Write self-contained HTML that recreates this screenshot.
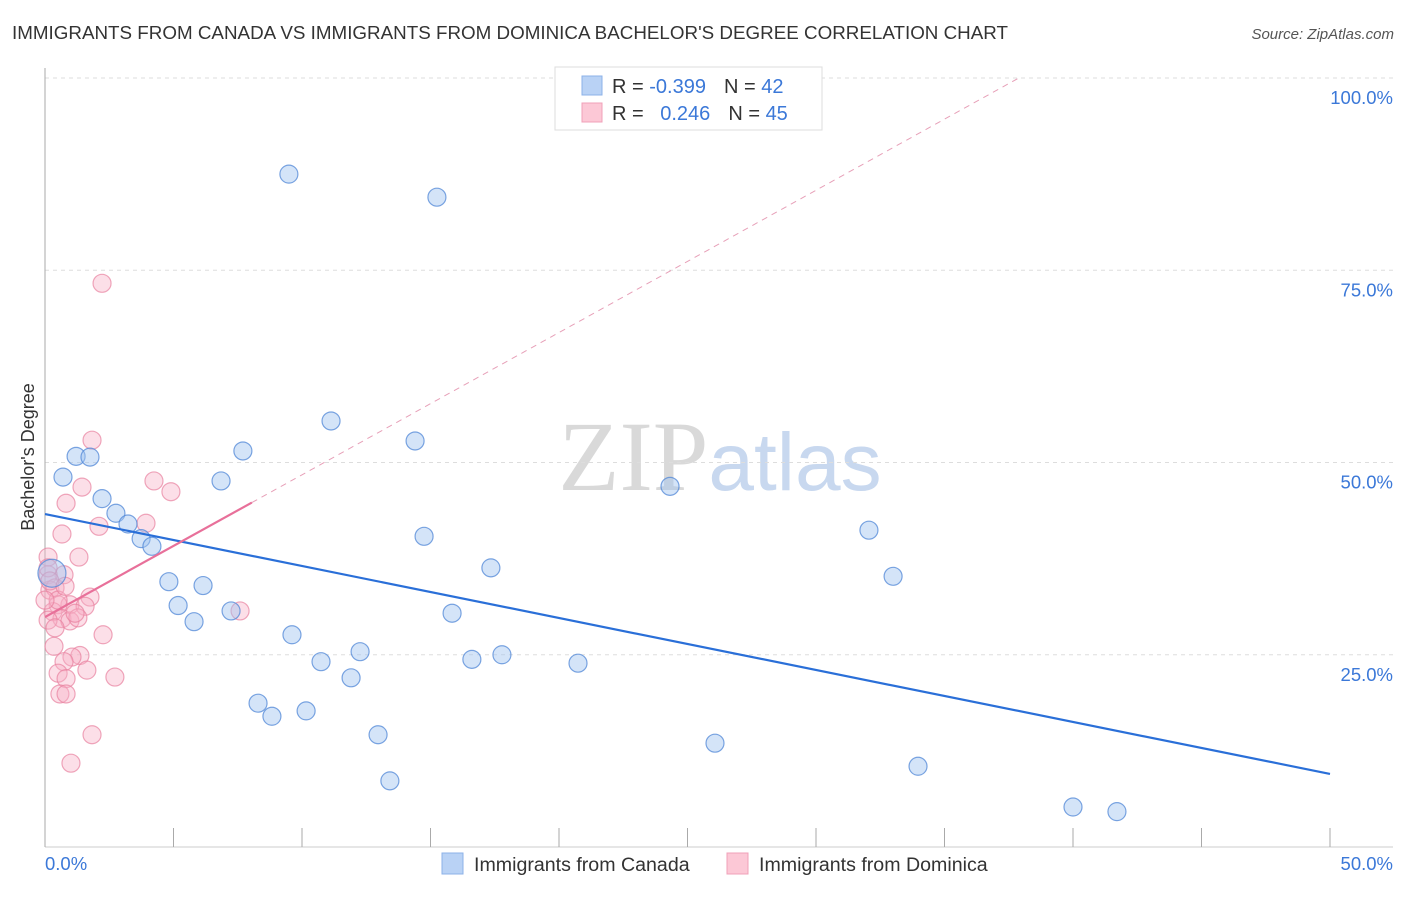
<!DOCTYPE html>
<html><head><meta charset="utf-8"><style>
body{margin:0;background:#fff;font-family:"Liberation Sans",sans-serif;}
svg text{font-family:"Liberation Sans",sans-serif;}
</style></head><body>
<svg id="chart" width="1406" height="892" xmlns="http://www.w3.org/2000/svg">
<text x="12" y="39" font-size="18" fill="#333" textLength="996" lengthAdjust="spacingAndGlyphs">IMMIGRANTS FROM CANADA VS IMMIGRANTS FROM DOMINICA BACHELOR'S DEGREE CORRELATION CHART</text>
<text x="1394" y="39" font-size="15" fill="#555" text-anchor="end" font-style="italic">Source: ZipAtlas.com</text>
<text x="720" y="490" font-size="100" text-anchor="middle"><tspan fill="#d9d9d9" font-family="Liberation Serif">ZIP</tspan><tspan fill="#c8d8ef" font-size="82">atlas</tspan></text>
<text transform="translate(34,457) rotate(-90)" font-size="18" fill="#333" text-anchor="middle">Bachelor's Degree</text>
<g id="grid"></g><g id="marks"></g>
<g>
<rect x="555" y="67" width="267" height="63" fill="#fff" stroke="#ddd"/>
<rect x="582" y="76" width="20" height="19" fill="#b9d2f5" stroke="#8cb2e8"/>
<rect x="582" y="103" width="20" height="19" fill="#fcc8d6" stroke="#f0a0b8"/>
<text x="612" y="93" font-size="20" fill="#333">R = <tspan fill="#3b78d8">-0.399</tspan><tspan dx="18">N = </tspan><tspan fill="#3b78d8">42</tspan></text>
<text x="612" y="120" font-size="20" fill="#333">R = <tspan fill="#3b78d8" dx="11">0.246</tspan><tspan dx="18">N = </tspan><tspan fill="#3b78d8">45</tspan></text>
</g>
<g>
<rect x="442" y="853" width="21" height="21" fill="#b9d2f5" stroke="#8cb2e8"/>
<text x="474" y="871" font-size="19.6" fill="#333">Immigrants from Canada</text>
<rect x="727" y="853" width="21" height="21" fill="#fcc8d6" stroke="#f0a0b8"/>
<text x="759" y="871" font-size="19.6" fill="#333">Immigrants from Dominica</text>
</g>
</svg>
<script>
const yTicks=[25,50,75,100];
const yTickLabels=["25.0%","50.0%","75.0%","100.0%"];
const xTicks=[0,5,10,15,20,25,30,35,40,45,50];
const canadaX=[9.49,15.25,11.13,7.70,14.40,1.21,1.75,0.70,6.85,24.32,2.22,2.76,3.23,3.74,4.16,14.75,32.06,17.35,33.00,4.82,6.15,5.18,7.24,5.80,15.84,9.61,12.26,10.74,16.61,17.78,20.74,11.91,8.29,8.83,10.16,12.96,26.07,33.97,13.42,40.00,41.71,0.27];
const canadaY=[87.5,84.5,55.4,51.5,52.8,50.8,50.7,48.1,47.6,46.9,45.3,43.4,42.0,40.1,39.1,40.4,41.2,36.3,35.2,34.5,34.0,31.4,30.7,29.3,30.4,27.6,25.4,24.1,24.4,25.0,23.9,22.0,18.7,17.0,17.7,14.6,13.5,10.5,8.6,5.2,4.6,35.6];
const canadaR=[9,9,9,9,9,9,9,9,9,9,9,9,9,9,9,9,9,9,9,9,9,9,9,9,9,9,9,9,9,9,9,9,9,9,9,9,9,9,9,9,9,14];
const domX=[2.22,1.83,1.44,0.82,4.24,4.90,3.93,2.10,0.66,0.12,1.32,0.74,0.12,0.19,0.39,1.75,0.97,1.56,0.51,0.31,0.66,0.97,0.12,0.39,1.28,2.26,0.35,7.59,1.36,1.05,0.74,1.63,0.51,2.72,0.82,0.58,0.82,1.83,1.01,0.12,0.51,1.17,0.19,0.78,0.0];
const domY=[73.3,52.9,46.8,44.7,47.6,46.2,42.1,41.7,40.7,37.7,37.7,35.4,35.4,33.4,33.7,32.5,31.5,31.3,31.5,30.6,29.7,29.4,29.5,28.5,29.8,27.6,26.1,30.7,24.9,24.7,24.1,23.0,22.6,22.1,21.9,19.9,19.9,14.6,10.9,36.3,32.1,30.4,34.6,33.9,32.1];
const canadaLine=[43.3,9.5];
const domLine=[29.9,1.85,8.05];
const sx=v=>45+v/50*1285, sy=v=>847-v/100*769;
const NS="http://www.w3.org/2000/svg";
const grid=document.getElementById('grid'), marks=document.getElementById('marks');
function mk(tag,attrs,parent){const e=document.createElementNS(NS,tag);for(const k in attrs)e.setAttribute(k,attrs[k]);parent.appendChild(e);return e;}
yTicks.forEach((t,i)=>{
  const l=mk('line',{x1:45,x2:1393,y1:sy(t),y2:sy(t),stroke:'#ddd','stroke-dasharray':'4,4'},grid);
  
  
  const tx=mk('text',{x:1393,y:sy(t)+26,'font-size':18.5,fill:'#3b78d8','text-anchor':'end'},grid);
  tx.textContent=yTickLabels[i];
  
  
});
const ax=mk('line',{x1:45,x2:45,y1:68,y2:847,stroke:'#aaa'},grid);


const bx=mk('line',{x1:45,x2:1393,y1:847,y2:847,stroke:'#ccc'},grid);


xTicks.forEach(t=>{
  const l=mk('line',{x1:sx(t),x2:sx(t),y1:828,y2:847,stroke:'#aaa'},grid);
  
  
});
const xl0=mk('text',{x:45,y:870,'font-size':18.5,fill:'#3b78d8'},grid);xl0.textContent='0.0%';


const xl1=mk('text',{x:1393,y:870,'font-size':18.5,fill:'#3b78d8','text-anchor':'end'},grid);xl1.textContent='50.0%';


domX.forEach((x,i)=>{
  const c=mk('circle',{cx:sx(x),cy:sy(domY[i]),r:9,fill:'rgba(248,175,198,0.4)',stroke:'rgba(232,130,160,0.7)','stroke-width':1.2},marks);
  
  
});
canadaX.forEach((x,i)=>{
  const c=mk('circle',{cx:sx(x),cy:sy(canadaY[i]),r:canadaR[i],fill:'rgba(160,196,240,0.45)',stroke:'rgba(80,135,215,0.75)','stroke-width':1.2},marks);
  
  
});
const bl=mk('line',{x1:sx(0),y1:sy(canadaLine[0]),x2:sx(50),y2:sy(canadaLine[1]),stroke:'#2a6fd8','stroke-width':2.2},marks);


const dEnd=(100-domLine[0])/domLine[1];
const pd=mk('line',{x1:sx(domLine[2]),y1:sy(domLine[0]+domLine[1]*domLine[2]),x2:sx(dEnd),y2:sy(100),stroke:'#e7a0b8','stroke-width':1,'stroke-dasharray':'6,5'},marks);


const pl=mk('line',{x1:sx(0),y1:sy(domLine[0]),x2:sx(domLine[2]),y2:sy(domLine[0]+domLine[1]*domLine[2]),stroke:'#e8709a','stroke-width':2.2},marks);


</script>
</body></html>
